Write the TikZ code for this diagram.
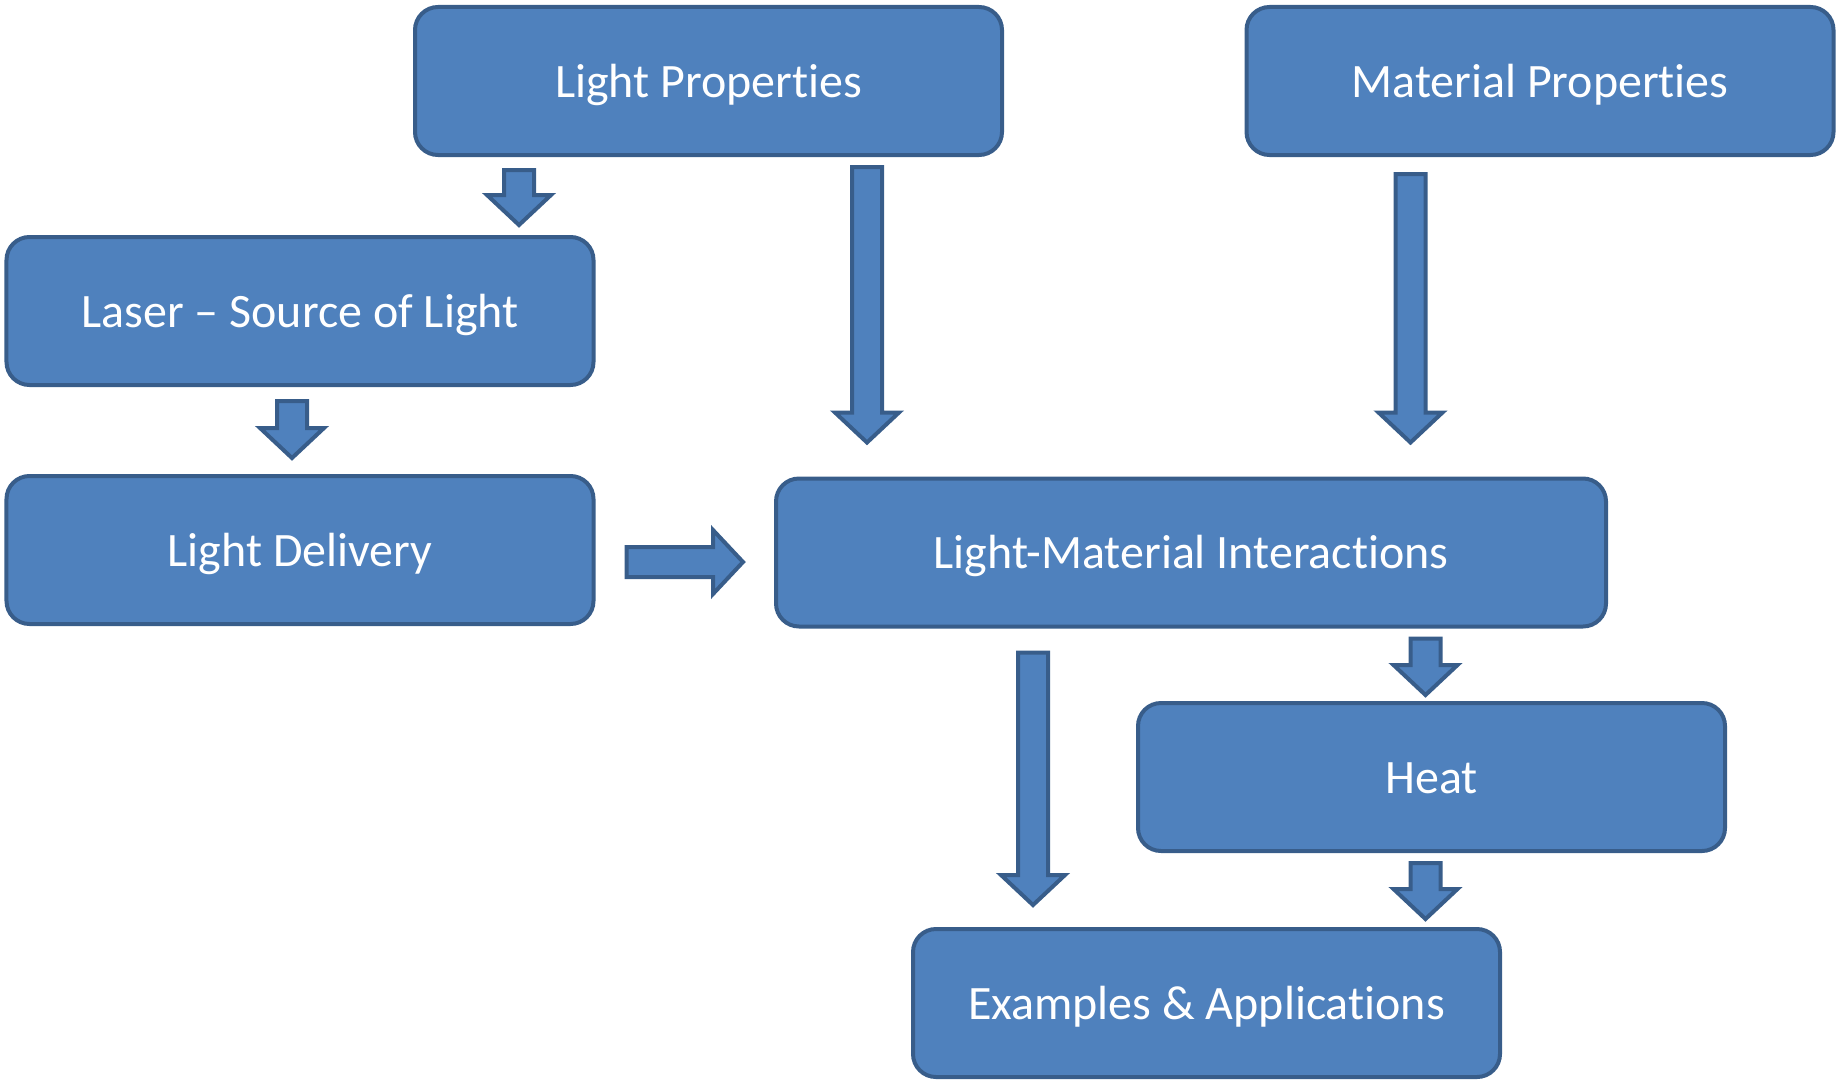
\documentclass[tikz,border=0pt]{standalone}
\usepackage{fontspec}
\setmainfont{Carlito}[Ligatures={TeX,NoCommon,NoContextual,NoRare}, Contextuals=NoAlternate]
\usepackage{tikz}
\usetikzlibrary{calc}
\definecolor{boxfill}{HTML}{4F81BD}
\definecolor{boxline}{HTML}{385D8A}
\tikzstyle{process} = [rectangle, rounded corners=0.46cm, minimum width=11.74cm, minimum height=2.96cm, text centered, text height=0.8cm, text depth=0.16cm, draw=boxline, fill=boxfill, line width=0.08cm, text=white, font=\fontsize{27.3}{32}\selectfont]
\tikzstyle{fat} = [draw=boxline, fill=boxfill, line width=0.08cm, line join=miter,
  to path={($(\tikztostart)!0.3cm!90:(\tikztotarget)$)
    -- ($(\tikztotarget)!0.6cm!(\tikztostart)!0.3cm!90:(\tikztotarget)$)
    -- ($(\tikztotarget)!0.6cm!(\tikztostart)!0.64cm!90:(\tikztotarget)$)
    -- (\tikztotarget)
    -- ($(\tikztotarget)!0.6cm!(\tikztostart)!0.64cm!-90:(\tikztotarget)$)
    -- ($(\tikztotarget)!0.6cm!(\tikztostart)!0.3cm!-90:(\tikztotarget)$)
    -- ($(\tikztostart)!0.3cm!-90:(\tikztotarget)$) -- cycle}]

\begin{document}
\begin{tikzpicture}[node distance=4.6cm]
	\useasboundingbox (0,0) rectangle (36.78,-21.62);
	\node (light) [process] at (14.17,-1.62) {Light Properties};
	\node (material) [process, node distance=16.63cm, right of=light] {Material Properties};
	\node (laser) [process, below of=light, xshift=-8.17cm] {Laser – Source of Light};
	\node (delivery) [process, node distance=4.78cm, below of=laser] {Light Delivery};
	\node (lmi) [process, minimum width=16.6cm, node distance=17.82cm, right of=delivery, yshift=-0.05cm] {Light-Material Interactions};
	\node (heat) [process, node distance=4.49cm, below of=lmi, xshift=4.81cm] {Heat};
	\node (examples) [process, node distance=4.52cm, below of=heat, xshift=-4.5cm] {Examples \& Applications};
	\draw [fat] ([xshift=-3.79cm, yshift=-0.26cm]light.south) to ([xshift=4.38cm, yshift=0.2cm]laser.north);
	\draw [fat] ([xshift=3.17cm, yshift=-0.2cm]light.south) to ([xshift=-6.48cm, yshift=0.68cm]lmi.north);
	\draw [fat] ([xshift=-2.59cm, yshift=-0.34cm]material.south) to ([xshift=4.39cm, yshift=0.68cm]lmi.north);
	\draw [fat] ([xshift=-0.16cm, yshift=-0.28cm]laser.south) to ([xshift=-0.16cm, yshift=0.32cm]delivery.north);
	\draw [fat] ([xshift=0.62cm, yshift=-0.24cm]delivery.east) to ([xshift=-0.62cm, yshift=-0.19cm]lmi.west);
	\draw [fat] ([xshift=-3.16cm, yshift=-0.48cm]lmi.south) to ([xshift=-3.47cm, yshift=0.44cm]examples.north);
	\draw [fat] ([xshift=4.69cm, yshift=-0.2cm]lmi.south) to ([xshift=-0.12cm, yshift=0.12cm]heat.north);
	\draw [fat] ([xshift=-0.12cm, yshift=-0.2cm]heat.south) to ([xshift=4.38cm, yshift=0.16cm]examples.north);
\end{tikzpicture}
\end{document}
